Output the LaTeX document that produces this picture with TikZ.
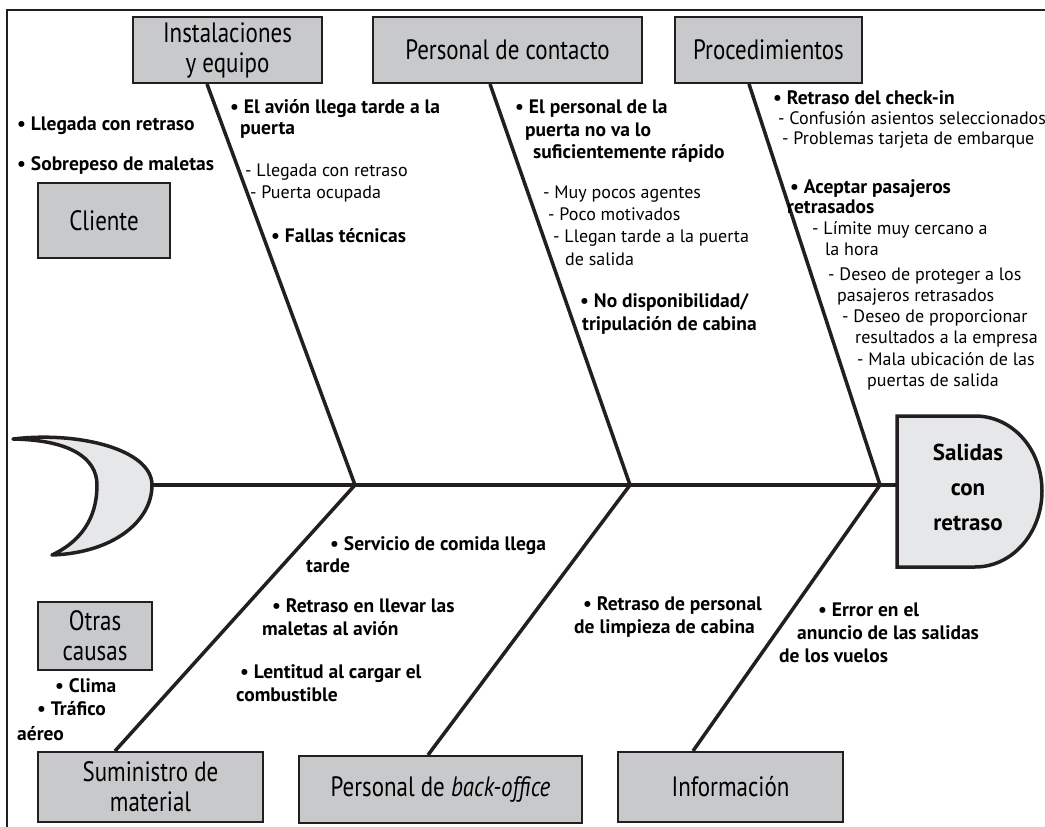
\documentclass[tikz,border=0pt]{standalone}
\usepackage{fontspec}
\setmainfont{PT Sans}
\newfontfamily\boxfont{PT Sans}[FakeStretch=0.82]
\definecolor{ink}{HTML}{231F20}
\definecolor{boxgray}{HTML}{C8C9CB}
\definecolor{palegray}{HTML}{E6E7E8}
\tikzset{
  cat/.style={draw=ink,fill=boxgray,line width=2pt,align=center,inner sep=2pt,
    font=\boxfont\fontsize{28}{30}\selectfont},
  bone/.style={draw=ink,line width=3.5pt},
  cause/.style={anchor=base west,inner sep=0pt,font=\bfseries\fontsize{19.5}{22}\selectfont},
  sub/.style={anchor=base west,inner sep=0pt,font=\fontsize{18}{21}\selectfont},
}
\begin{document}
\begin{tikzpicture}[x=1pt,y=-1pt]
  \useasboundingbox (0,0) rectangle (1045,827);
  % frame
  \draw[ink,line width=2pt] (7,827) -- (7,10) -- (1045,10);
  % tail and head
  \filldraw[fill=palegray,draw=ink,line width=3.5pt,line join=round]
    (13,439) .. controls (80,431) and (152,450) .. (152,485)
    .. controls (152,522) and (112,553) .. (52,555)
    .. controls (88,538) and (97,510) .. (97,485)
    .. controls (97,458) and (70,440) .. (13,439) -- cycle;
  \filldraw[fill=palegray,draw=ink,line width=3.5pt]
    (897,416) -- (975,416) .. controls (1012.6,416) and (1042,449.3) .. (1042,491)
    .. controls (1042,532.7) and (1012.6,567) .. (975,567) -- (897,567) -- cycle;
  \node[font=\bfseries\fontsize{23}{35}\selectfont,align=center] (head) at (968,487) {Salidas\\con\\retraso};
  \coordinate (tailtip) at (152,485);
  \coordinate (headin) at (897,485);
  \coordinate (j1) at (355,485);
  \coordinate (j2) at (630,485);
  \coordinate (j3) at (880,485);
  % category boxes
  \node[cat,minimum width=189,minimum height=66] (inst) at (227.5,50) {Instalaciones\\y equipo};
  \node[cat,minimum width=269,minimum height=66] (contacto) at (507.5,50) {Personal de contacto};
  \node[cat,minimum width=187,minimum height=66] (proc) at (768.5,50) {Procedimientos};
  \node[cat,minimum width=132,minimum height=75] (cliente) at (104,220.5) {Cliente};
  \node[cat,minimum width=114,minimum height=68] (otras) at (95,636) {Otras\\causas};
  \node[cat,minimum width=225,minimum height=70] (sumin) at (150.5,787) {Suministro de\\material};
  \node[cat,minimum width=283,minimum height=67] (backoff) at (440.5,789.5) {Personal de \textit{back-office}};
  \node[cat,minimum width=225,minimum height=70] (info) at (730.5,787) {Información};
  % spine and bones
  \draw[bone] (tailtip) -- (headin);
  \draw[bone] ([xshift=-20.5pt]inst.south) -- (j1) -- ([xshift=-35.5pt]sumin.north);
  \draw[bone] ([xshift=-17.5pt]contacto.south) -- (j2) -- ([xshift=-12.5pt]backoff.north);
  \draw[bone] ([xshift=-19.5pt]proc.south) -- (j3) -- ([xshift=-37.5pt]info.north);
  % Cliente
  \node[cause] (c1) at (17,130) {\textbullet\ Llegada con retraso};
  \node[cause] (c2) at (17,170) {\textbullet\ Sobrepeso de maletas};
  % Instalaciones y equipo
  \node[cause] (i1) at (230,113) {\textbullet\ El avión llega tarde a la};
  \node[cause] (i2) at (240,134) {puerta};
  \node[sub] (i3) at (245,176) {- Llegada con retraso};
  \node[sub] (i4) at (250,198) {- Puerta ocupada};
  \node[cause] (i5) at (271,242) {\textbullet\ Fallas técnicas};
  % Personal de contacto
  \node[cause] (p1) at (515,113) {\textbullet\ El personal de la};
  \node[cause] (p2) at (525,136) {puerta no va lo};
  \node[cause] (p3) at (533,158) {suficientemente rápido};
  \node[sub] (p4) at (543,198) {- Muy pocos agentes};
  \node[sub] (p5) at (548,220) {- Poco motivados};
  \node[sub] (p6) at (553,242) {- Llegan tarde a la puerta};
  \node[sub] (p7) at (565,265) {de salida};
  \node[cause] (p8) at (580,307) {\textbullet\ No disponibilidad/};
  \node[cause] (p9) at (582,330) {tripulación de cabina};
  % Procedimientos
  \node[cause] (r1) at (773,104) {\textbullet\ Retraso del check-in};
  \node[sub] (r2) at (778,124) {- Confusión asientos seleccionados};
  \node[sub] (r3) at (782,144) {- Problemas tarjeta de embarque};
  \node[cause] (r4) at (790,193) {\textbullet\ Aceptar pasajeros};
  \node[cause] (r5) at (787,213) {retrasados};
  \node[sub] (r6) at (812,234) {- Límite muy cercano a};
  \node[sub] (r7) at (825,255) {la hora};
  \node[sub] (r8) at (828,280) {- Deseo de proteger a los};
  \node[sub] (r9) at (837,301) {pasajeros retrasados};
  \node[sub] (r10) at (842,322) {- Deseo de proporcionar};
  \node[sub] (r11) at (855,343) {resultados a la empresa};
  \node[sub] (r12) at (857,365) {- Mala ubicación de las};
  \node[sub] (r13) at (867,386) {puertas de salida};
  % Suministro de material
  \node[cause] (s1) at (330,550) {\textbullet\ Servicio de comida llega};
  \node[cause] (s2) at (306,572) {tarde};
  \node[cause] (s3) at (272,612) {\textbullet\ Retraso en llevar las};
  \node[cause] (s4) at (262,635) {maletas al avión};
  \node[cause] (s5) at (240,678) {\textbullet\ Lentitud al cargar el};
  \node[cause] (s6) at (236,701) {combustible};
  % back-office
  \node[cause] (b1) at (583,610) {\textbullet\ Retraso de personal};
  \node[cause] (b2) at (574,633) {de limpieza de cabina};
  % Informacion
  \node[cause] (n1) at (818,616) {\textbullet\ Error en el};
  \node[cause] (n2) at (797,639) {anuncio de las salidas};
  \node[cause] (n3) at (779,662) {de los vuelos};
  % Otras causas
  \node[cause] (o1) at (55,692) {\textbullet\ Clima};
  \node[cause] (o2) at (37,715) {\textbullet\ Tráfico};
  \node[cause] (o3) at (17,740) {aéreo};
\end{tikzpicture}
\end{document}
